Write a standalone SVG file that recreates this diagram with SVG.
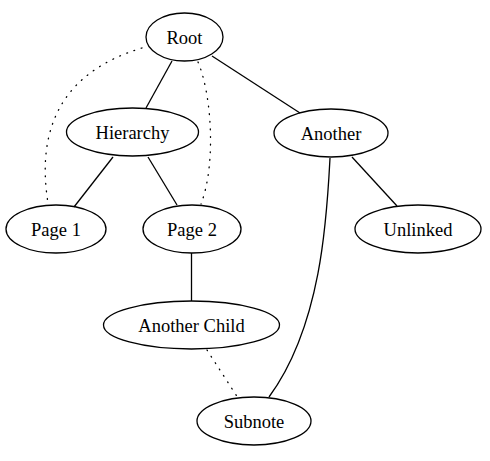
<svg xmlns="http://www.w3.org/2000/svg" width="490" height="461" viewBox="0 0 490 461">
<style>
.n ellipse{fill:none;stroke:#000;stroke-width:1.3}
.n text{font-family:"Liberation Serif","Times New Roman",serif;font-size:18.5px;text-anchor:middle;fill:#000}
#edges path{fill:none;stroke:#000;stroke-width:1.3}
#edges .d{stroke-dasharray:0.8 6.8;stroke-linecap:round}
</style>
<rect width="490" height="461" fill="#fff"/>
<g id="edges">
<path d="M172,61 L146,108"/>
<path d="M212,56 L300,113"/>
<path d="M113,157 L74,207"/>
<path d="M148,157 L177,205"/>
<path d="M352,157 L397,206"/>
<path d="M330,158 C327,215 322,325 269,397"/>
<path d="M191.5,253 L191.5,301"/>
<path class="d" d="M142,48 C62,72 36,128 48,203"/>
<path class="d" d="M198,62 C212,95 216,165 201,204"/>
<path class="d" d="M207,350 L238,398"/>
</g>
<g id="root" class="n"><ellipse cx="184.5" cy="37" rx="38.5" ry="24"/><text x="184.5" y="43.5">Root</text></g>
<g id="hierarchy" class="n"><ellipse cx="132.5" cy="132" rx="66" ry="24"/><text x="132.5" y="138.5">Hierarchy</text></g>
<g id="another" class="n"><ellipse cx="331" cy="133" rx="57" ry="24"/><text x="331" y="139.5">Another</text></g>
<g id="page1" class="n"><ellipse cx="56" cy="229" rx="50" ry="24"/><text x="56" y="235.5">Page 1</text></g>
<g id="page2" class="n"><ellipse cx="192" cy="229" rx="49" ry="24"/><text x="192" y="235.5">Page 2</text></g>
<g id="unlinked" class="n"><ellipse cx="418" cy="229" rx="63" ry="24"/><text x="418" y="235.5">Unlinked</text></g>
<g id="anotherchild" class="n"><ellipse cx="191.5" cy="325" rx="88" ry="24"/><text x="191.5" y="331.5">Another Child</text></g>
<g id="subnote" class="n"><ellipse cx="254" cy="421" rx="57" ry="24"/><text x="254" y="427.5">Subnote</text></g>
</svg>
